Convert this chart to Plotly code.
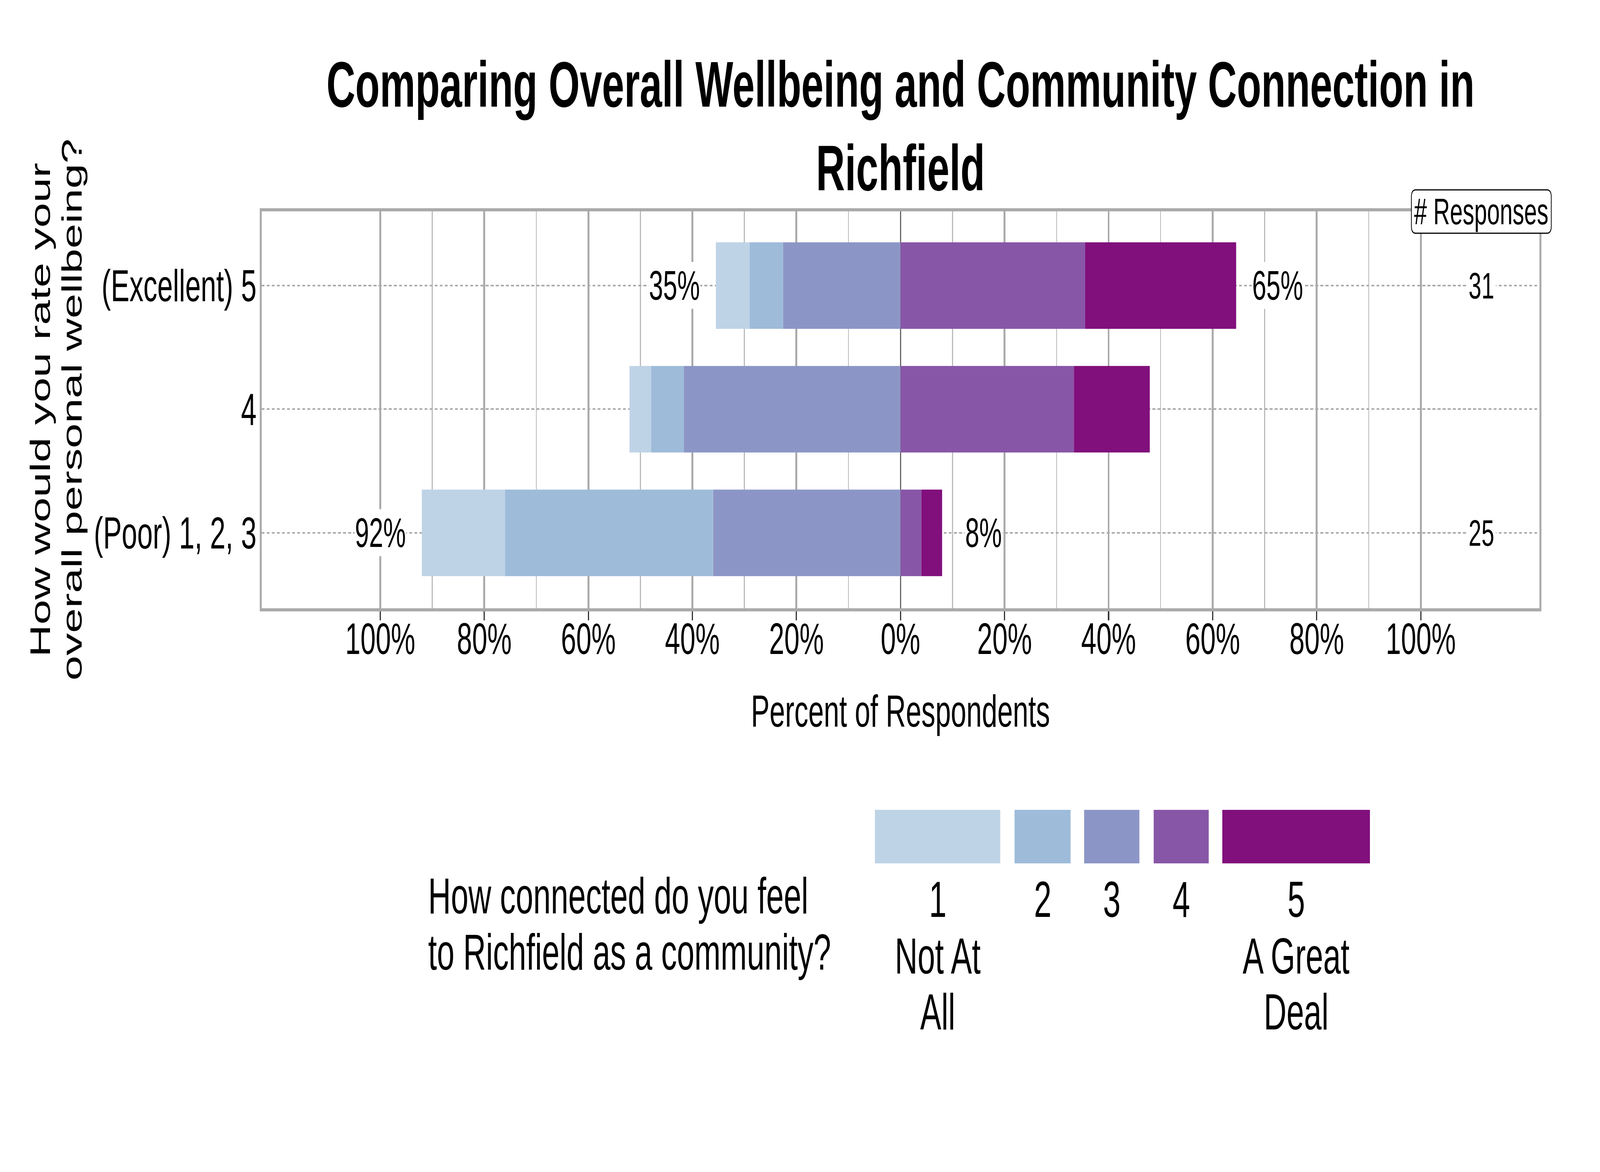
import plotly.graph_objects as go

# rows, top to bottom: "How would you rate your overall personal wellbeing?"
wellbeing = ["(Excellent) 5", "4", "(Poor) 1, 2, 3"]
responses = [31, 48, 25]

# answer counts for "How connected do you feel to Richfield as a community?"
connected_1 = [2, 2, 4]
connected_2 = [2, 3, 10]
connected_3 = [7, 20, 9]
connected_4 = [11, 16, 1]
connected_5 = [9, 7, 1]

level_labels = [["1", "Not At", "All"], ["2"], ["3"], ["4"], ["5", "A Great", "Deal"]]
level_colors = ["#bfd3e6", "#9ebcda", "#8c96c6", "#8856a7", "#810f7c"]

major_ticks = [-100, -80, -60, -40, -20, 0, 20, 40, 60, 80, 100]
major_text = ["100%", "80%", "60%", "40%", "20%", "0%", "20%", "40%", "60%", "80%", "100%"]
minor_ticks = [-90, -70, -50, -30, -10, 10, 30, 50, 70, 90]

FONT = "Liberation Sans, Arial, sans-serif"
W, H = 6600, 3000
L, R, T, B = 1079, 6350, 541, 1557   # plot box in pixels


def px(x):
    return (x - L) / (R - L)


def py(y):
    return (B - y) / (B - T)


def pct(counts):
    return [100 * c / n for c, n in zip(counts, responses)]


def rounded_box(x0, y0, x1, y1, r):
    # pixel box -> paper path with rounded corners
    a, b, c, d = px(x0), py(y1), px(x1), py(y0)
    rx, ry = r / (R - L), r / (B - T)
    return (f"M {a + rx},{d} L {c - rx},{d} Q {c},{d} {c},{d - ry} L {c},{b + ry} Q {c},{b} {c - rx},{b} "
            f"L {a + rx},{b} Q {a},{b} {a},{b + ry} L {a},{d - ry} Q {a},{d} {a + rx},{d} Z")


p1, p2, p3, p4, p5 = [pct(c) for c in (connected_1, connected_2, connected_3, connected_4, connected_5)]
left_total = [a + b + c for a, b, c in zip(p1, p2, p3)]
right_total = [a + b for a, b in zip(p4, p5)]

fig = go.Figure()
# negative side stacks out from zero: level 3, then 2, then 1
for vals, col in [(p3, level_colors[2]), (p2, level_colors[1]), (p1, level_colors[0])]:
    fig.add_trace(go.Bar(y=wellbeing, x=[-v for v in vals], orientation="h",
                         marker=dict(color=col, line=dict(width=0)), showlegend=False))
for vals, col in [(p4, level_colors[3]), (p5, level_colors[4])]:
    fig.add_trace(go.Bar(y=wellbeing, x=vals, orientation="h",
                         marker=dict(color=col, line=dict(width=0)), showlegend=False))

annotations = []
shapes = []
# totals either side of the bars
for cat, lt, rt in zip(wellbeing, left_total, right_total):
    annotations.append(dict(x=-lt, y=cat, xref="x", yref="y", text=f"{round(lt)}%", showarrow=False,
                            xshift=-171, font=dict(size=105, color="black", family=FONT), bgcolor="white"))
    annotations.append(dict(x=rt, y=cat, xref="x", yref="y", text=f"{round(rt)}%", showarrow=False,
                            xshift=171, font=dict(size=105, color="black", family=FONT), bgcolor="white"))

# number of responses column
count_x = 111.65
for cat, n in zip(wellbeing, responses):
    annotations.append(dict(x=count_x, y=cat, xref="x", yref="y", text=str(n), showarrow=False,
                            font=dict(size=95, color="black", family=FONT), bgcolor="white", borderpad=6))
shapes.append(dict(type="path", xref="paper", yref="paper", path=rounded_box(5822, 486, 6399, 597, 18),
                   fillcolor="white", line=dict(color="black", width=3), layer="above"))
annotations.append(dict(x=count_x, y=1, xref="x", yref="paper", text="# Responses", showarrow=False,
                        xanchor="center", yanchor="middle", font=dict(size=95, color="black", family=FONT)))

# y axis title, two lines
for txt, cx in [("How would you rate your", 167), ("overall personal wellbeing?", 296)]:
    annotations.append(dict(x=px(cx), y=0.5, xref="paper", yref="paper", text=txt, textangle=-90,
                            showarrow=False, xanchor="center", yanchor="middle",
                            font=dict(size=115, color="black", family=FONT)))

# legend
legend_title = [("How connected do you feel", 2293), ("to Richfield as a community?", 2437)]
for txt, cy in legend_title:
    annotations.append(dict(x=px(1764), y=py(cy), xref="paper", yref="paper", text=txt, showarrow=False,
                            xanchor="left", yanchor="middle", font=dict(size=130, color="black", family=FONT)))

box_edges = [(3609, 4126), (4185, 4416), (4472, 4700), (4759, 4986), (5042, 5651)]
box_top, box_bottom = 2073, 2210
line_centers = [2302, 2447, 2590]
for (x0, x1), col, lines in zip(box_edges, level_colors, level_labels):
    shapes.append(dict(type="rect", xref="paper", yref="paper", x0=px(x0), x1=px(x1),
                       y0=py(box_bottom), y1=py(box_top), fillcolor=col, line=dict(width=0)))
    for txt, cy in zip(lines, line_centers):
        annotations.append(dict(x=px((x0 + x1) / 2), y=py(cy), xref="paper", yref="paper", text=txt,
                                showarrow=False, xanchor="center", yanchor="middle",
                                font=dict(size=130, color="black", family=FONT)))

fig.update_layout(
    width=W, height=H, autosize=False,
    margin=dict(l=L, r=W - R, t=T, b=H - B, pad=0),
    paper_bgcolor="white", plot_bgcolor="white",
    barmode="relative", bargap=0.3,
    showlegend=False,
    font=dict(family=FONT, color="black"),
    title=dict(text="<b>Comparing Overall Wellbeing and Community Connection in<br>Richfield</b>",
               x=0.5, xref="paper", xanchor="center", y=1 - 273 / H, yref="container", yanchor="middle",
               font=dict(size=165, color="black", family=FONT)),
    xaxis=dict(
        range=[-122.8, 122.8], tickmode="array", tickvals=major_ticks, ticktext=major_text,
        tickfont=dict(size=113, color="black"), ticks="outside", ticklen=23, tickwidth=5, tickcolor="#333333",
        ticklabelstandoff=-50,
        showgrid=True, gridcolor="#aaaaaa", gridwidth=8,
        minor=dict(tickmode="array", tickvals=minor_ticks, showgrid=True, gridcolor="#bbbbbb", gridwidth=4, ticks=""),
        zeroline=True, zerolinecolor="#666666", zerolinewidth=5,
        showline=True, linecolor="#aaaaaa", linewidth=8, mirror=True,
        title=dict(text="Percent of Respondents", font=dict(size=115, color="black"), standoff=86),
        fixedrange=True,
    ),
    yaxis=dict(
        categoryorder="array", categoryarray=wellbeing, range=[2.61, -0.6],
        tickfont=dict(size=115, color="black"), ticks="", ticklabelstandoff=-10,
        showgrid=True, gridcolor="#aaaaaa", gridwidth=4, griddash="12px,9px",
        zeroline=False,
        showline=True, linecolor="#aaaaaa", linewidth=8, mirror=True,
        fixedrange=True,
    ),
    annotations=annotations,
    shapes=shapes,
)

# the figure is laid out for 6600x3000; stretch it onto whatever window the page gets
fit_to_window = """
document.body.style.margin = '0';
document.body.style.overflow = 'hidden';
var gd = document.getElementById('{plot_id}');
gd.style.transformOrigin = '0 0';
gd.style.transform = 'scale(' + (window.innerWidth / 6600) + ',' + (window.innerHeight / 3000) + ')';
"""
fig.write_html("out.html", post_script=fit_to_window, config={"displayModeBar": False})
